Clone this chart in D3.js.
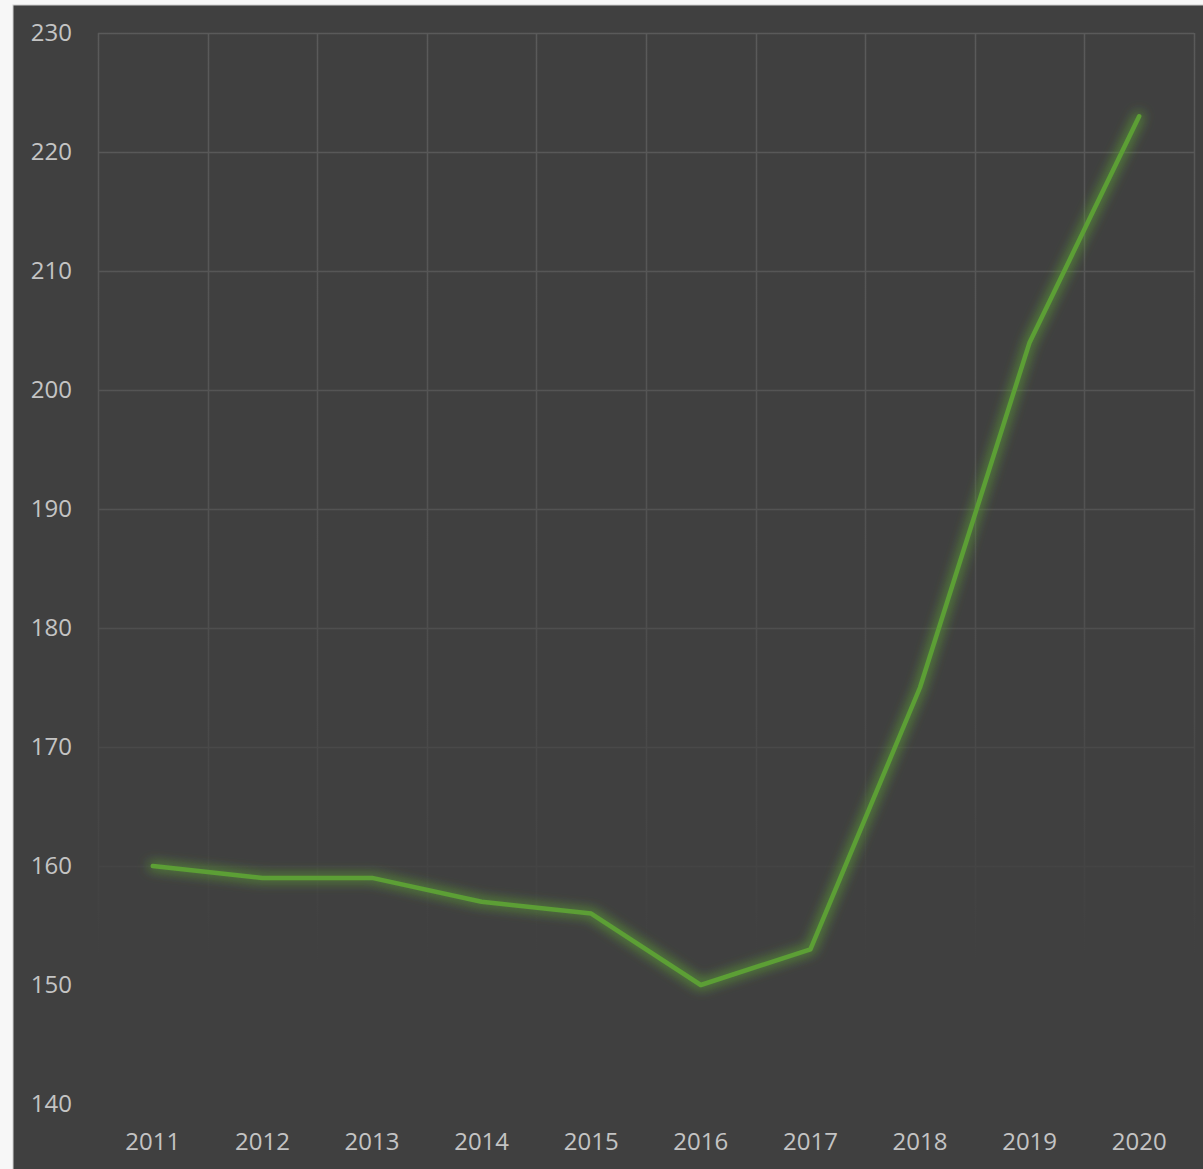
<!DOCTYPE html>
<html>
<head>
<meta charset="utf-8">
<script src="https://cdn.jsdelivr.net/npm/d3@7"></script>
<style>
  html, body { margin: 0; padding: 0; background: #f7f7f7; }
  svg { display: block; }
</style>
</head>
<body>
<div id="chart"></div>
<script>
// 数据
const years = ["2011", "2012", "2013", "2014", "2015", "2016", "2017", "2018", "2019", "2020"];
const values = [160, 159, 159, 157, 156, 150, 153, 175, 204, 223];
const yTicks = [140, 150, 160, 170, 180, 190, 200, 210, 220, 230];

const width = 1203, height = 1169;
const panel = { x: 13, y: 5 };
const margin = { top: 33, right: 9, bottom: 66, left: 98 };

const svg = d3.select("#chart").append("svg")
    .attr("width", width)
    .attr("height", height);

const defs = svg.append("defs");

// 网格线渐隐
const fade = defs.append("linearGradient")
    .attr("id", "gridFade")
    .attr("gradientUnits", "userSpaceOnUse")
    .attr("x1", 0).attr("y1", margin.top)
    .attr("x2", 0).attr("y2", 960);
fade.append("stop").attr("offset", "0%").attr("stop-color", "#5a5a5a");
fade.append("stop").attr("offset", "55%").attr("stop-color", "#525252");
fade.append("stop").attr("offset", "100%").attr("stop-color", "#404040");

// 发光效果
const glow = defs.append("filter")
    .attr("id", "glow")
    .attr("x", "-20%").attr("y", "-20%")
    .attr("width", "140%").attr("height", "140%");
glow.append("feMorphology").attr("in", "SourceGraphic").attr("operator", "dilate").attr("radius", 2).attr("result", "fat");
glow.append("feGaussianBlur").attr("in", "fat").attr("stdDeviation", 6).attr("result", "blur");
glow.append("feComponentTransfer").attr("in", "blur").attr("result", "softBlur")
    .append("feFuncA").attr("type", "linear").attr("slope", 0.75);
const merge = glow.append("feMerge");
merge.append("feMergeNode").attr("in", "softBlur");
merge.append("feMergeNode").attr("in", "SourceGraphic");

// 背景面板
svg.append("rect")
    .attr("x", panel.x).attr("y", panel.y)
    .attr("width", width - panel.x + 2).attr("height", height - panel.y + 2)
    .attr("fill", "#404040")
    .attr("stroke", "#d0d0d0")
    .attr("stroke-width", 1);

const x = d3.scaleBand()
    .domain(years)
    .range([margin.left, width - margin.right]);

const y = d3.scaleLinear()
    .domain([140, 230])
    .range([margin.top + 9 * 119, margin.top]);

// 横向网格
const grid = svg.append("g");
grid.selectAll("line.h")
    .data(yTicks.filter(d => d > 140))
    .join("line")
    .attr("x1", margin.left).attr("x2", width - margin.right)
    .attr("y1", d => y(d) + 0.5).attr("y2", d => y(d) + 0.5)
    .attr("stroke", "url(#gridFade)")
    .attr("stroke-width", 1.5);

// 纵向网格
const xEdges = years.map(d => x(d)).concat([x(years[years.length - 1]) + x.bandwidth()]);
grid.selectAll("line.v")
    .data(xEdges)
    .join("line")
    .attr("x1", d => Math.round(d) + 0.5).attr("x2", d => Math.round(d) + 0.5)
    .attr("y1", margin.top).attr("y2", 960)
    .attr("stroke", "url(#gridFade)")
    .attr("stroke-width", 1.5);

// Y轴标签
const yAxis = svg.append("g")
    .attr("transform", `translate(${72},0)`)
    .call(d3.axisLeft(y).tickValues(yTicks).tickSize(0).tickPadding(0));
yAxis.select(".domain").remove();
yAxis.selectAll("text")
    .attr("fill", "#c4c4c4")
    .style("font-family", "'Open Sans', 'Noto Sans', sans-serif")
    .style("font-size", "24px");

// X轴标签
const xAxis = svg.append("g")
    .attr("transform", `translate(0,${1133})`)
    .call(d3.axisBottom(x).tickSize(0).tickPadding(0));
xAxis.select(".domain").remove();
xAxis.selectAll("text")
    .attr("fill", "#c4c4c4")
    .style("font-family", "'Open Sans', 'Noto Sans', sans-serif")
    .style("font-size", "24px");

// 折线
const line = d3.line()
    .x((d, i) => x(years[i]) + x.bandwidth() / 2)
    .y(d => y(d));

svg.append("path")
    .datum(values)
    .attr("d", line)
    .attr("fill", "none")
    .attr("stroke", "#5c9f34")
    .attr("stroke-width", 4.5)
    .attr("stroke-linecap", "round")
    .attr("stroke-linejoin", "round")
    .attr("filter", "url(#glow)");
</script>
</body>
</html>
